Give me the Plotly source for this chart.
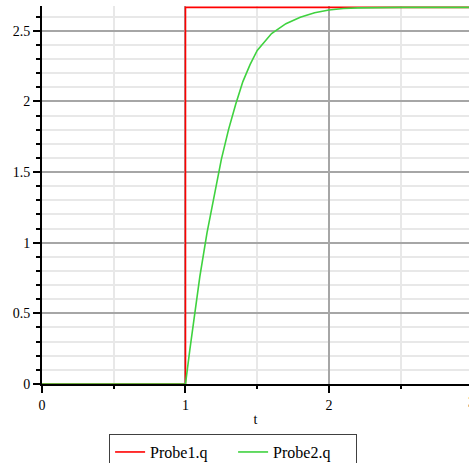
import plotly.graph_objects as go

# Data
red_t = [0, 1, 1, 3]
red_v = [0, 0, 2.665, 2.665]

green_t = [0, 1.0, 1.03, 1.06, 1.10, 1.15, 1.20, 1.25, 1.30, 1.35, 1.40, 1.45, 1.50,
           1.60, 1.70, 1.80, 1.90, 2.00, 2.10, 2.20, 2.50, 3.0]
green_v = [0, 0, 0.24, 0.47, 0.76, 1.07, 1.33, 1.59, 1.80, 1.98, 2.14, 2.26, 2.36,
           2.48, 2.55, 2.595, 2.627, 2.647, 2.657, 2.662, 2.665, 2.665]

x_ticks = [0, 1, 2]
y_ticks = [0, 0.5, 1, 1.5, 2, 2.5]
y_tick_text = ["0", "0.5", "1", "1.5", "2", "2.5"]

SERIF = "Liberation Serif"

fig = go.Figure()
fig.add_trace(go.Scatter(x=red_t, y=red_v, mode="lines", name="Probe1.q",
                         line=dict(color="#ff0000", width=1.6)))
fig.add_trace(go.Scatter(x=green_t, y=green_v, mode="lines", name="Probe2.q",
                         line=dict(color="#3fd23f", width=1.6, shape="linear")))

fig.update_layout(
    width=469, height=463,
    margin=dict(l=42, r=0, t=6, b=79, autoexpand=False),
    paper_bgcolor="white", plot_bgcolor="white",
    font=dict(family=SERIF, size=14, color="black"),
    showlegend=True,
    legend=dict(orientation="h", xref="container", yref="container",
                x=0.497, xanchor="center", y=0.0625, yanchor="top",
                bordercolor="#404040", borderwidth=1, font=dict(size=16, family=SERIF),
                entrywidth=78, entrywidthmode="pixels",
                itemwidth=30, tracegroupgap=0),
    xaxis=dict(range=[0, 2.976], tickvals=x_ticks, ticktext=[str(v) for v in x_ticks],
               automargin=False,
               showline=True, linecolor="black", linewidth=2,
               ticks="outside", ticklen=7, tickwidth=1.5, tickcolor="black",
               showgrid=True, gridcolor="#a6a6a6", gridwidth=2,
               zeroline=False,
               minor=dict(dtick=0.5, tick0=0, showgrid=True, gridcolor="#e8e8e8", gridwidth=2,
                          ticks="outside", ticklen=3, tickcolor="black"),
               title=dict(text="t", standoff=2, font=dict(size=14, family=SERIF)),
               tickfont=dict(size=14, family=SERIF)),
    yaxis=dict(range=[0, 2.675], tickvals=y_ticks, ticktext=y_tick_text,
               automargin=False,
               showline=True, linecolor="black", linewidth=2,
               ticks="outside", ticklen=7, tickwidth=1.5, tickcolor="black",
               showgrid=True, gridcolor="#a6a6a6", gridwidth=2,
               zeroline=False,
               minor=dict(dtick=0.1, tick0=0, showgrid=True, gridcolor="#e8e8e8", gridwidth=2,
                          ticks="outside", ticklen=4, tickcolor="black"),
               tickfont=dict(size=14, family=SERIF)),
)

# Partially visible "3" tick label at the right edge
fig.add_annotation(text="3", xref="paper", yref="paper", x=1.0047, y=0,
                   yshift=-9, xanchor="center", yanchor="top", showarrow=False,
                   font=dict(size=14, family=SERIF))

fig.write_html("out.html", config={"displayModeBar": False},
               post_script="document.body.style.margin='0';document.body.style.overflow='hidden';")
